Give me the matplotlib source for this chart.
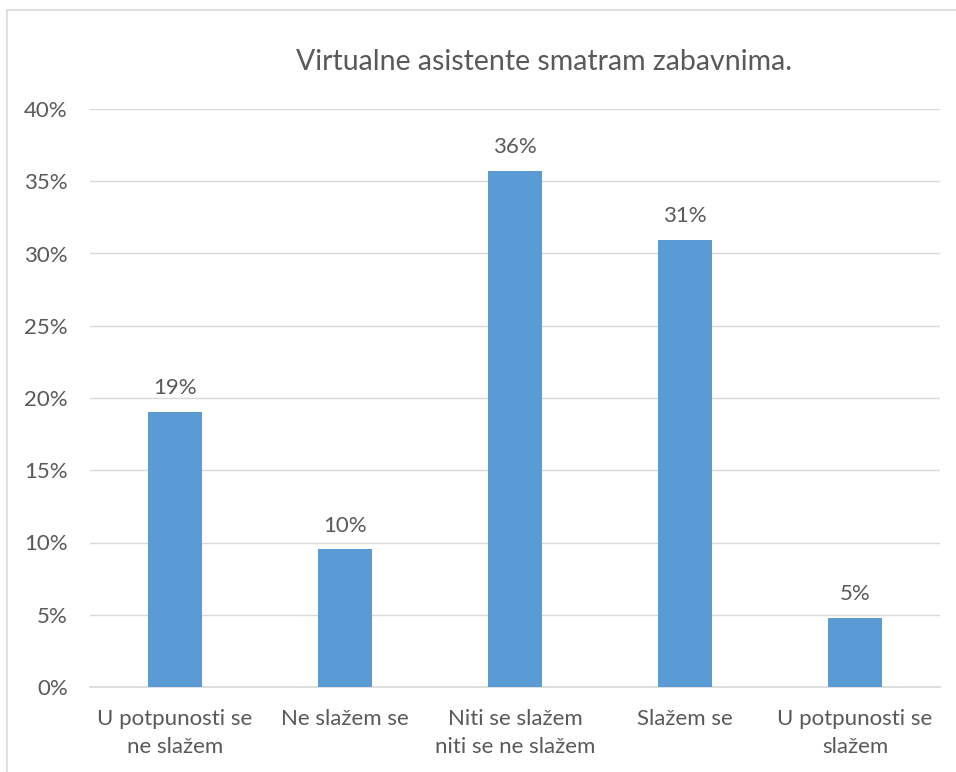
import matplotlib.pyplot as plt
from matplotlib.lines import Line2D
from matplotlib.ticker import PercentFormatter

categories = ["U potpunosti se\nne slažem", "Ne slažem se",
              "Niti se slažem\nniti se ne slažem", "Slažem se",
              "U potpunosti se\nslažem"]
values = [19.05, 9.52, 35.71, 30.95, 4.76]
labels = ["19%", "10%", "36%", "31%", "5%"]
yticks = [0, 5, 10, 15, 20, 25, 30, 35, 40]

TEXT = "#595959"
GRID = "#D9D9D9"
BAR = "#5B9BD5"

plt.rcParams['font.family'] = ['Lato', 'DejaVu Sans']

fig = plt.figure(figsize=(9.56, 7.72), dpi=100)
ax = fig.add_axes([90/956, 1 - 687/772, 850/956, (687 - 109)/772])

x = range(len(categories))
bars = ax.bar(x, values, width=0.32, color=BAR, zorder=3)
for b, lab in zip(bars, labels):
    ax.annotate(lab, (b.get_x() + b.get_width()/2, b.get_height()),
                xytext=(0, 10), textcoords="offset points",
                ha="center", va="bottom", fontsize=16, color=TEXT)

ax.set_xlim(-0.5, len(categories) - 0.5)
ax.set_ylim(0, 40)
ax.set_yticks(yticks)
ax.yaxis.set_major_formatter(PercentFormatter(decimals=0))
ax.set_xticks(list(x))
ax.set_xticklabels(categories, fontsize=16, color=TEXT, linespacing=1.5)
ax.tick_params(axis="y", labelsize=16, labelcolor=TEXT, length=0, pad=16)
ax.tick_params(axis="x", length=0, pad=15.5)
ax.grid(axis="y", color=GRID, linewidth=1, zorder=0)
for s in ["top", "right", "left"]:
    ax.spines[s].set_visible(False)
ax.spines["bottom"].set_color(GRID)
ax.spines["bottom"].set_linewidth(1.2)

fig.text(544/956, 1 - 62/772, "Virtualne asistente smatram zabavnima.",
         ha="center", va="center", fontsize=20.5, color=TEXT)

# chart frame, as in the spreadsheet export
fig.add_artist(Line2D([7/956, 1], [1 - 10/772, 1 - 10/772],
                      transform=fig.transFigure, color=GRID, linewidth=1.2))
fig.add_artist(Line2D([7/956, 7/956], [0, 1 - 10/772],
                      transform=fig.transFigure, color=GRID, linewidth=1.2))

fig.savefig("out.png", dpi=100)
